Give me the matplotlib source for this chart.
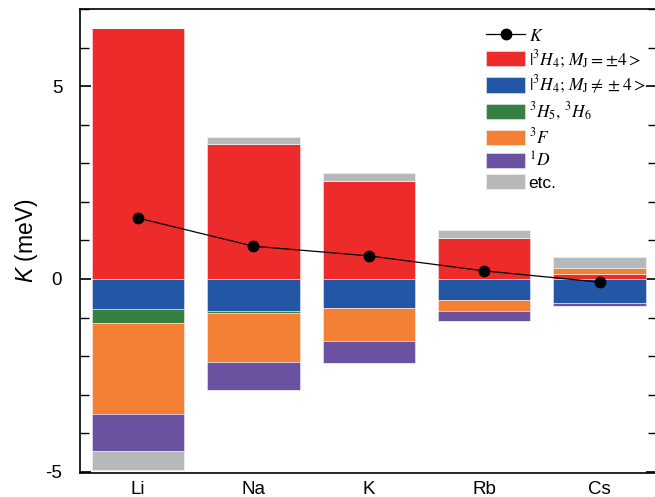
import matplotlib
matplotlib.use("Agg")
import matplotlib.pyplot as plt
from matplotlib.font_manager import FontProperties
from matplotlib.lines import Line2D
from matplotlib.patches import Patch
import numpy as np

# ---- data ----
categories = ["Li", "Na", "K", "Rb", "Cs"]
red = [6.52, 3.50, 2.54, 1.07, 0.12]       # |3H4; MJ=±4>
blue = [-0.79, -0.84, -0.75, -0.54, -0.61]  # |3H4; MJ≠±4>
green = [-0.36, -0.03, 0.0, 0.0, 0.02]      # 3H5, 3H6
orange = [-2.34, -1.29, -0.87, -0.29, 0.14] # 3F
purple = [-0.98, -0.71, -0.56, -0.27, -0.09] # 1D
gray = [-0.49, 0.18, 0.21, 0.20, 0.30]      # etc.
K_total = [1.58, 0.85, 0.60, 0.21, -0.08]

series = [red, blue, green, orange, purple, gray]
colors = ["#EE2B2B", "#2456A6", "#377F43", "#F38034", "#6A52A1", "#B7B8B9"]
labels = [r"$|^3H_4;\,M_\mathrm{J}=\pm4>$",
          r"$|^3H_4;\,M_\mathrm{J}\neq\pm4>$",
          r"$^3H_5,\,^3H_6$",
          r"$^3F$",
          r"$^1D$",
          "etc."]

plt.rcParams["font.family"] = ["Liberation Sans", "DejaVu Sans"]
plt.rcParams["mathtext.fontset"] = "custom"
plt.rcParams["mathtext.it"] = "Liberation Sans:italic"
plt.rcParams["mathtext.rm"] = "Liberation Sans"

fig = plt.figure(figsize=(6.55, 4.97), dpi=100)
ax = fig.add_axes([80.3 / 655, 1 - 473 / 497, 577 / 655, (473 - 9) / 497])

x = np.arange(len(categories))
pos_bottom = np.zeros(len(categories))
neg_bottom = np.zeros(len(categories))
for vals, c in zip(series, colors):
    v = np.array(vals, dtype=float)
    pos = np.where(v > 0, v, 0.0)
    neg = np.where(v < 0, v, 0.0)
    ax.bar(x, pos, 0.8, bottom=pos_bottom, color=c,
           edgecolor=(1, 1, 1, 0.45), linewidth=0.7, zorder=2)
    ax.bar(x, neg, 0.8, bottom=neg_bottom, color=c,
           edgecolor=(1, 1, 1, 0.45), linewidth=0.7, zorder=2)
    pos_bottom += pos
    neg_bottom += neg

ax.plot(x, K_total, color="black", lw=0.9, marker="o", ms=7.5, zorder=3)

ax.set_xlim(-0.5, 4.5)
ax.set_ylim(-5.03, 7)
ax.set_xticks(x)
ax.set_xticklabels(categories)
ax.set_yticks([-5, 0, 5])
ax.set_yticklabels(["-5", "0", "5"])
ax.set_yticks(np.arange(-5, 8, 1), minor=True)
ax.tick_params(axis="x", length=0, pad=6, labelsize=13.5)
ax.tick_params(axis="y", which="major", direction="in", length=8, width=1.2,
               right=True, labelsize=13.5, pad=13)
ax.tick_params(axis="y", which="minor", direction="in", length=6.5, width=1.0,
               right=True)
for s in ax.spines.values():
    s.set_linewidth(1.2)

ax.set_ylabel(r"$K$ (meV)", fontsize=16.5, labelpad=4)

handles = [Line2D([0], [0], color="black", lw=0.9, marker="o", ms=7.5)]
handles += [Patch(facecolor=c, edgecolor=(1, 1, 1, 0.45), lw=0.7) for c in colors]
all_labels = [r"$K$"] + labels
prop = FontProperties(family="Liberation Sans", size=12.5, math_fontfamily="stix")
leg = fig.legend(handles, all_labels, loc="upper left",
                 bbox_to_anchor=(486 / 655, 1 - 27 / 497),
                 frameon=False, prop=prop, handlelength=2.25, handleheight=0.98,
                 handletextpad=0.2, labelspacing=0.24, borderpad=0,
                 borderaxespad=0)

fig.savefig("out.png", dpi=100)
